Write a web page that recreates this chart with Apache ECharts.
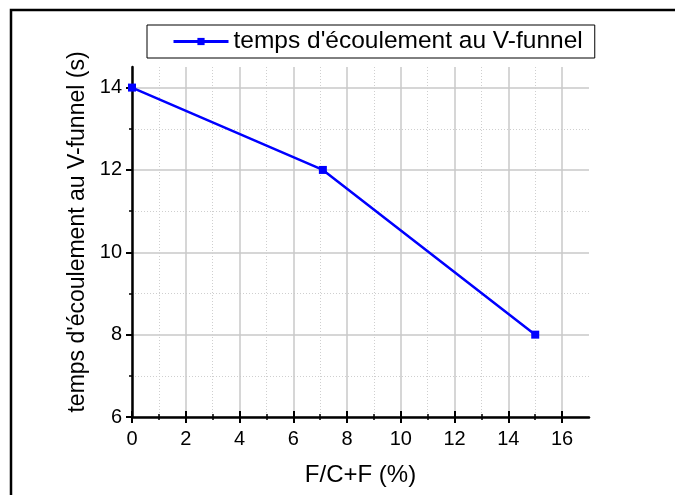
<!DOCTYPE html>
<html>
<head>
<meta charset="utf-8">
<script src="https://cdn.jsdelivr.net/npm/echarts@6/dist/echarts.min.js"></script>
<style>
  html, body { margin: 0; padding: 0; background: #fff; }
  #chart { width: 675px; height: 495px; }
</style>
</head>
<body>
<div id="chart"></div>
<script>
// Flow time through the V-funnel versus F/C+F ratio
var seriesName = "temps d'écoulement au V-funnel";
var fcfPercent = [0, 7.1, 15];
var flowTime = [14, 12, 8];

var xMajorTicks = [0, 2, 4, 6, 8, 10, 12, 14, 16];
var xMinorTicks = [1, 3, 5, 7, 9, 11, 13, 15];
var yMajorTicks = [6, 8, 10, 12, 14];
var yMinorTicks = [7, 9, 11, 13];

var xName = 'F/C+F (%)';
var yName = "temps d'écoulement au V-funnel (s)";

var FONT = '"Liberation Sans", Arial, sans-serif';
var BLUE = '#0000ff';

var points = fcfPercent.map(function (x, i) { return [x, flowTime[i]]; });

function xAxisBase(extra) {
  return Object.assign({
    type: 'value', min: 0, max: 17, position: 'bottom', gridIndex: 0,
    axisLine: { show: false }, axisLabel: { show: false },
    axisTick: { show: false }, splitLine: { show: false }
  }, extra);
}
function yAxisBase(extra) {
  return Object.assign({
    type: 'value', min: 6, max: 14.5, position: 'left', gridIndex: 0,
    axisLine: { show: false }, axisLabel: { show: false },
    axisTick: { show: false }, splitLine: { show: false }
  }, extra);
}

var chart = echarts.init(document.getElementById('chart'), null, { renderer: 'canvas' });
chart.setOption({
  animation: false,
  backgroundColor: '#fff',
  textStyle: { fontFamily: FONT },
  graphic: [{
    type: 'rect', silent: true, z: 100,
    shape: { x: 11, y: 10, width: 700, height: 520 },
    style: { fill: null, stroke: '#000', lineWidth: 2.5 }
  }],
  grid: { left: 132, right: 86, top: 67, bottom: 78, containLabel: false },
  legend: {
    show: true,
    left: 147, top: 25,
    padding: [4, 12, 4, 25],
    borderColor: '#000', borderWidth: 1,
    backgroundColor: '#fff',
    itemWidth: 55, itemHeight: 9, itemGap: 5,
    lineStyle: { width: 3 },
    textStyle: { fontSize: 24.5, color: '#000', fontFamily: FONT },
    data: [seriesName]
  },
  xAxis: [
    // minor dotted grid + minor ticks
    xAxisBase({
      axisTick: { show: true, inside: false, length: 3, customValues: xMinorTicks,
        lineStyle: { color: '#000', width: 1.5 } },
      splitLine: { show: true, lineStyle: { color: '#cfcfcf', type: [1, 2], width: 1 } }
    }),
    xAxisBase({
      axisTick: { show: true, inside: true, length: 3, customValues: xMinorTicks,
        lineStyle: { color: '#000', width: 1.5 } }
    }),
    // major grid, ticks, labels
    xAxisBase({
      name: xName, nameLocation: 'middle', nameGap: 46,
      nameTextStyle: { fontSize: 24, color: '#000', fontFamily: FONT },
      axisLine: { show: true, onZero: false, lineStyle: { color: '#000', width: 2.5 } },
      axisTick: { show: true, inside: false, length: 6, customValues: xMajorTicks,
        lineStyle: { color: '#000', width: 2 } },
      axisLabel: { show: true, customValues: xMajorTicks, fontSize: 20, color: '#000',
        margin: 12, fontFamily: FONT },
      splitLine: { show: true, lineStyle: { color: '#c8c8c8', width: 1.5 } }
    }),
    xAxisBase({
      axisTick: { show: true, inside: true, length: 6, customValues: xMajorTicks,
        lineStyle: { color: '#000', width: 2 } }
    })
  ],
  yAxis: [
    yAxisBase({
      axisTick: { show: true, inside: false, length: 3, customValues: yMinorTicks,
        lineStyle: { color: '#000', width: 1.5 } },
      splitLine: { show: true, lineStyle: { color: '#cfcfcf', type: [1, 2], width: 1 } }
    }),
    yAxisBase({
      name: yName, nameLocation: 'middle', nameGap: 42,
      nameTextStyle: { fontSize: 23, color: '#000', fontFamily: FONT, padding: [0, 0, 0, 20] },
      axisLine: { show: true, onZero: false, lineStyle: { color: '#000', width: 2.5 } },
      axisTick: { show: true, inside: false, length: 6, customValues: yMajorTicks,
        lineStyle: { color: '#000', width: 2 } },
      axisLabel: { show: true, customValues: yMajorTicks, fontSize: 20, color: '#000',
        margin: 10, fontFamily: FONT },
      splitLine: { show: true, lineStyle: { color: '#c8c8c8', width: 1.5 } }
    })
  ],
  series: [{
    name: seriesName,
    type: 'line',
    xAxisIndex: 2, yAxisIndex: 1,
    data: points,
    symbol: 'rect', symbolSize: 8,
    showAllSymbol: true,
    lineStyle: { color: BLUE, width: 2.5 },
    itemStyle: { color: BLUE, borderWidth: 0 },
    z: 10
  }]
});
</script>
</body>
</html>
